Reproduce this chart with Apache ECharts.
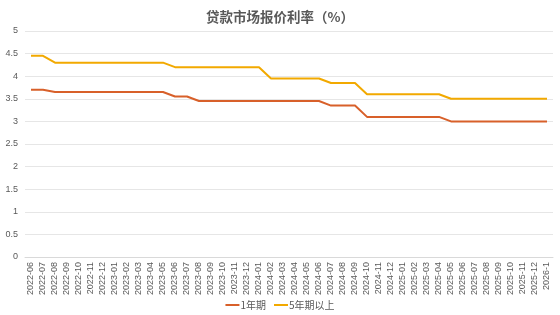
<!DOCTYPE html>
<html>
<head>
<meta charset="utf-8">
<script src="https://cdn.jsdelivr.net/npm/echarts@6/dist/echarts.min.js"></script>
<style>html,body{margin:0;padding:0;background:#fff;}#c{width:560px;height:315px;}</style>
</head>
<body>
<div id="c"></div>
<script>
var categories = ["2022-06","2022-07","2022-08","2022-09","2022-10","2022-11","2022-12",
"2023-01","2023-02","2023-03","2023-04","2023-05","2023-06","2023-07","2023-08","2023-09","2023-10","2023-11","2023-12",
"2024-01","2024-02","2024-03","2024-04","2024-05","2024-06","2024-07","2024-08","2024-09","2024-10","2024-11","2024-12",
"2025-01","2025-02","2025-03","2025-04","2025-05","2025-06","2025-07","2025-08","2025-09","2025-10","2025-11","2025-12","2026-1"];
var lpr1y = [3.70,3.70,3.65,3.65,3.65,3.65,3.65,
3.65,3.65,3.65,3.65,3.65,3.55,3.55,3.45,3.45,3.45,3.45,3.45,
3.45,3.45,3.45,3.45,3.45,3.45,3.35,3.35,3.35,3.10,3.10,3.10,
3.10,3.10,3.10,3.10,3.00,3.00,3.00,3.00,3.00,3.00,3.00,3.00,3.00];
var lpr5y = [4.45,4.45,4.30,4.30,4.30,4.30,4.30,
4.30,4.30,4.30,4.30,4.30,4.20,4.20,4.20,4.20,4.20,4.20,4.20,
4.20,3.95,3.95,3.95,3.95,3.95,3.85,3.85,3.85,3.60,3.60,3.60,
3.60,3.60,3.60,3.60,3.50,3.50,3.50,3.50,3.50,3.50,3.50,3.50,3.50];
var seriesNames = ["1年期","5年期以上"];
var chart = echarts.init(document.getElementById('c'), null, {renderer:'canvas'});
var txt = '#595959';
chart.setOption({
  animation:false,
  backgroundColor:'#fff',
  title:{text:'贷款市场报价利率（%）',left:'center',top:5,textStyle:{fontSize:13.5,fontWeight:'bold',color:txt,fontFamily:'Noto Sans CJK SC'}},
  grid:{left:25,right:7,top:31,bottom:58},
  legend:{bottom:0,left:'center',itemWidth:14,itemHeight:2,itemGap:8,icon:'rect',
    textStyle:{fontSize:10,color:txt,fontFamily:'Noto Sans CJK SC',padding:[0,0,0,-4]},
    data:seriesNames},
  xAxis:{type:'category',data:categories,boundaryGap:true,
    axisLine:{lineStyle:{color:'#d9d9d9'}},axisTick:{show:false},
    axisLabel:{rotate:90,fontSize:9,color:txt,interval:0,margin:5,fontFamily:'Liberation Sans'}},
  yAxis:{type:'value',min:0,max:5,interval:0.5,
    axisLine:{show:false},axisTick:{show:false},
    splitLine:{lineStyle:{color:'#e6e6e6'}},
    axisLabel:{fontSize:9,color:txt,margin:7,fontFamily:'Liberation Sans'}},
  series:[
    {name:seriesNames[0],type:'line',data:lpr1y,symbol:'none',lineStyle:{width:2,color:'#D8602A'},itemStyle:{color:'#D8602A'}},
    {name:seriesNames[1],type:'line',data:lpr5y,symbol:'none',lineStyle:{width:2,color:'#F2A900'},itemStyle:{color:'#F2A900'}}
  ]
});
</script>
</body>
</html>
